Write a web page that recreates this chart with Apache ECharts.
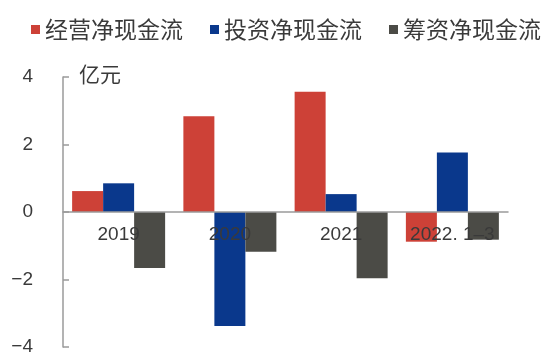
<!DOCTYPE html>
<html>
<head>
<meta charset="utf-8">
<script src="https://cdn.jsdelivr.net/npm/echarts@6/dist/echarts.min.js"></script>
<style>
  html, body { margin: 0; padding: 0; background: #fff; }
  #chart { width: 557px; height: 354px; }
</style>
</head>
<body>
<div id="chart"></div>
<script>
// Cash-flow breakdown by year (unit: 亿元)
var categories = ['2019', '2020', '2021', '2022. 1\u20133'];
var seriesNames = ['经营净现金流', '投资净现金流', '筹资净现金流'];
var operating = [0.62, 2.84, 3.56, -0.88];
var investing = [0.85, -3.38, 0.53, 1.76];
var financing = [-1.66, -1.18, -1.96, -0.82];
var yTicks = { min: -4, max: 4, interval: 2 };

var colors = ['#cd4137', '#0a388c', '#4b4b46'];
var textColor = '#3a3a3a';
var fontFamily = '"Liberation Sans", Arial, "Noto Sans CJK SC", sans-serif';
var cjkFamily = '"Noto Sans CJK SC", "Liberation Sans", sans-serif';

var W = 557, H = 354;
var gridBox = { left: 63, right: 49, top: 77, bottom: 7 };
// lift the category axis (line + labels) from the grid bottom up to value 0
var plotH = H - gridBox.top - gridBox.bottom;
var zeroLift = plotH * (0 - yTicks.min) / (yTicks.max - yTicks.min);

var chart = echarts.init(document.getElementById('chart'), null, { renderer: 'canvas' });

function bar(name, data, color) {
  return {
    name: name,
    type: 'bar',
    data: data,
    barWidth: 31,
    barGap: '0%',
    itemStyle: { color: color }
  };
}

chart.setOption({
  animation: false,
  backgroundColor: '#fff',
  color: colors,
  legend: {
    left: 26,
    top: 13,
    icon: 'rect',
    itemWidth: 9,
    itemHeight: 9,
    itemGap: 27,
    textStyle: { fontSize: 23, color: textColor, fontFamily: cjkFamily },
    data: seriesNames
  },
  grid: {
    left: gridBox.left, right: gridBox.right, top: gridBox.top, bottom: gridBox.bottom,
    containLabel: false, outerBoundsMode: 'none'
  },
  xAxis: {
    type: 'category',
    data: categories,
    position: 'bottom',
    offset: -zeroLift,
    z: 10,
    axisLine: { onZero: false, lineStyle: { color: '#9a9a9a', width: 1.5 } },
    axisTick: { show: false },
    axisLabel: {
      margin: 13,
      fontSize: 19,
      color: textColor,
      fontFamily: fontFamily,
      interval: 0
    }
  },
  yAxis: {
    type: 'value',
    min: yTicks.min,
    max: yTicks.max,
    interval: yTicks.interval,
    name: '亿元',
    nameLocation: 'end',
    nameGap: 3,
    nameTextStyle: {
      fontSize: 21,
      color: textColor,
      fontFamily: cjkFamily,
      align: 'left',
      verticalAlign: 'middle',
      padding: [0, 0, 0, 16]
    },
    axisLine: { show: true, lineStyle: { color: '#9a9a9a', width: 1.5 } },
    axisTick: { show: true, inside: true, length: 6, lineStyle: { color: '#9a9a9a', width: 1.5 } },
    splitLine: { show: false },
    axisLabel: {
      margin: 30,
      fontSize: 19,
      color: textColor,
      fontFamily: fontFamily,
      formatter: function (v) { return String(v).replace('-', '\u2212'); }
    }
  },
  series: [
    bar(seriesNames[0], operating, colors[0]),
    bar(seriesNames[1], investing, colors[1]),
    bar(seriesNames[2], financing, colors[2])
  ]
});
</script>
</body>
</html>
